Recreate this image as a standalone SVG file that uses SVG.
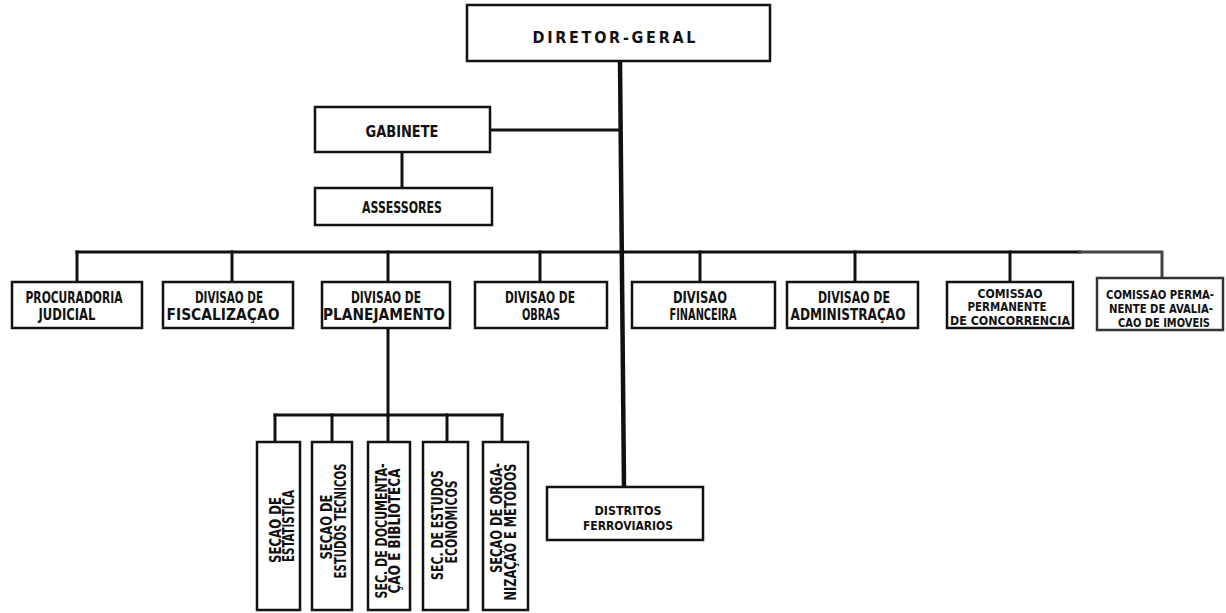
<svg xmlns="http://www.w3.org/2000/svg" width="1226" height="613" viewBox="0 0 1226 613">
  <style>
    .box { fill: #fff; stroke: #111; stroke-width: 2.5; }
    .ln { fill: none; stroke: #111; stroke-width: 3; stroke-linecap: square; }
    .trunk { fill: none; stroke: #111; stroke-width: 4.5; }
    text { font-family: "Liberation Sans Narrow", "DejaVu Sans Condensed", "Liberation Sans", sans-serif; font-stretch: condensed; font-weight: bold; fill: #111; text-anchor: middle; }
    .t14 { font-size: 15.5px; }
    .t13 { font-size: 13px; }
    .t12 { font-size: 12.5px; }
    .t15 { font-size: 16px; }
    .tv { font-size: 15.5px; }
  </style>
  <rect width="1226" height="613" fill="#fff"/>

  <!-- connectors -->
  <g id="connectors">
    <line class="trunk" x1="620" y1="61" x2="624" y2="487"/>
    <line class="ln" x1="490" y1="130" x2="620" y2="130"/>
    <line class="ln" x1="402" y1="152" x2="402" y2="188"/>
    <line class="ln" x1="77" y1="252" x2="1080" y2="252"/>
    <polyline class="ln" style="stroke:#444" points="1080,252 1162,252 1162,278"/>
    <line class="ln" x1="77" y1="252" x2="77" y2="282"/>
    <line class="ln" x1="232" y1="252" x2="232" y2="282"/>
    <line class="ln" x1="388" y1="252" x2="388" y2="282"/>
    <line class="ln" x1="540" y1="252" x2="540" y2="282"/>
    <line class="ln" x1="700" y1="252" x2="700" y2="282"/>
    <line class="ln" x1="855" y1="252" x2="855" y2="282"/>
    <line class="ln" x1="1010" y1="252" x2="1010" y2="282"/>
    <line class="ln" x1="388" y1="328" x2="388" y2="415"/>
    <line class="ln" x1="275" y1="415" x2="502" y2="415"/>
    <line class="ln" x1="275" y1="415" x2="275" y2="442"/>
    <line class="ln" x1="332" y1="415" x2="332" y2="442"/>
    <line class="ln" x1="388" y1="415" x2="388" y2="442"/>
    <line class="ln" x1="447" y1="415" x2="447" y2="442"/>
    <line class="ln" x1="502" y1="415" x2="502" y2="442"/>
  </g>

  <g id="diretor-geral">
    <rect class="box" x="467" y="5" width="303" height="56"/>
    <text class="t15" x="614" y="43" textLength="163" lengthAdjust="spacing">DIRETOR-GERAL</text>
  </g>

  <g id="gabinete">
    <rect class="box" x="315" y="107" width="175" height="45"/>
    <text class="t15" x="402" y="137" textLength="73" lengthAdjust="spacingAndGlyphs">GABINETE</text>
  </g>

  <g id="assessores">
    <rect class="box" x="315" y="188" width="177" height="37"/>
    <text class="t14" x="402" y="213" textLength="80" lengthAdjust="spacingAndGlyphs">ASSESSORES</text>
  </g>

  <g id="procuradoria">
    <rect class="box" x="12" y="282" width="130" height="46"/>
    <text class="t14" x="74" y="303" textLength="97" lengthAdjust="spacingAndGlyphs">PROCURADORIA</text>
    <text class="t14" x="67" y="320" textLength="57" lengthAdjust="spacingAndGlyphs">JUDICIAL</text>
  </g>

  <g id="fiscalizacao">
    <rect class="box" x="163" y="282" width="130" height="46"/>
    <text class="t14" x="229" y="303" textLength="68" lengthAdjust="spacingAndGlyphs">DIVISAO DE</text>
    <text class="t14" x="223" y="320" textLength="113" lengthAdjust="spacingAndGlyphs">FISCALIZAÇAO</text>
  </g>

  <g id="planejamento">
    <rect class="box" x="322" y="282" width="128" height="46"/>
    <text class="t14" x="386" y="303" textLength="70" lengthAdjust="spacingAndGlyphs">DIVISAO DE</text>
    <text class="t14" x="384" y="320" textLength="122" lengthAdjust="spacingAndGlyphs">PLANEJAMENTO</text>
  </g>

  <g id="obras">
    <rect class="box" x="475" y="282" width="132" height="46"/>
    <text class="t14" x="540" y="303" textLength="70" lengthAdjust="spacingAndGlyphs">DIVISAO DE</text>
    <text class="t14" x="541" y="320" textLength="38" lengthAdjust="spacingAndGlyphs">OBRAS</text>
  </g>

  <g id="financeira">
    <rect class="box" x="632" y="282" width="143" height="46"/>
    <text class="t14" x="700" y="303" textLength="54" lengthAdjust="spacingAndGlyphs">DIVISAO</text>
    <text class="t14" x="703" y="320" textLength="67" lengthAdjust="spacingAndGlyphs">FINANCEIRA</text>
  </g>

  <g id="administracao">
    <rect class="box" x="787" y="282" width="131" height="46"/>
    <text class="t14" x="854" y="303" textLength="72" lengthAdjust="spacingAndGlyphs">DIVISAO DE</text>
    <text class="t14" x="848" y="320" textLength="115" lengthAdjust="spacingAndGlyphs">ADMINISTRAÇAO</text>
  </g>

  <g id="comissao-concorrencia">
    <rect class="box" x="947" y="282" width="126" height="46"/>
    <text class="t13" x="1010" y="298" textLength="65" lengthAdjust="spacingAndGlyphs">COMISSAO</text>
    <text class="t13" x="1007" y="311" textLength="79" lengthAdjust="spacingAndGlyphs">PERMANENTE</text>
    <text class="t13" x="1010" y="325" textLength="120" lengthAdjust="spacingAndGlyphs">DE CONCORRENCIA</text>
  </g>

  <g id="comissao-imoveis">
    <rect class="box" x="1097" y="278" width="126" height="52" style="stroke:#333"/>
    <text class="t12" x="1160" y="299" textLength="108" lengthAdjust="spacingAndGlyphs">COMISSAO PERMA-</text>
    <text class="t12" x="1161" y="313" textLength="104" lengthAdjust="spacingAndGlyphs">NENTE DE AVALIA-</text>
    <text class="t12" x="1164" y="327" textLength="92" lengthAdjust="spacingAndGlyphs">CAO DE IMOVEIS</text>
  </g>

  <g id="distritos">
    <rect class="box" x="547" y="487" width="156" height="53"/>
    <text class="t13" x="628" y="515" textLength="67" lengthAdjust="spacingAndGlyphs">DISTRITOS</text>
    <text class="t13" x="628" y="530" textLength="90" lengthAdjust="spacingAndGlyphs">FERROVIARIOS</text>
  </g>

  <g id="secao-estatistica">
    <rect class="box" x="257" y="442" width="43" height="168"/>
    <text class="tv" transform="translate(281,530) rotate(-90)" textLength="66" lengthAdjust="spacingAndGlyphs">SEÇAO  DE</text>
    <text class="tv" transform="translate(294,526) rotate(-90)" textLength="72" lengthAdjust="spacingAndGlyphs">ESTATISTICA</text>
  </g>

  <g id="secao-estudos-tecnicos">
    <rect class="box" x="312" y="442" width="40" height="168"/>
    <text class="tv" transform="translate(332,527) rotate(-90)" textLength="65" lengthAdjust="spacingAndGlyphs">SEÇAO  DE</text>
    <text class="tv" transform="translate(346,521) rotate(-90)" textLength="115" lengthAdjust="spacingAndGlyphs">ESTUDOS TECNICOS</text>
  </g>

  <g id="secao-documentacao">
    <rect class="box" x="368" y="442" width="42" height="168"/>
    <text class="tv" transform="translate(387,531) rotate(-90)" textLength="135" lengthAdjust="spacingAndGlyphs">SEC. DE DOCUMENTA-</text>
    <text class="tv" transform="translate(400,531) rotate(-90)" textLength="125" lengthAdjust="spacingAndGlyphs">ÇAO E BIBLIOTECA</text>
  </g>

  <g id="secao-estudos-economicos">
    <rect class="box" x="423" y="442" width="45" height="168"/>
    <text class="tv" transform="translate(443,525) rotate(-90)" textLength="110" lengthAdjust="spacingAndGlyphs">SEC. DE ESTUDOS</text>
    <text class="tv" transform="translate(457,522) rotate(-90)" textLength="83" lengthAdjust="spacingAndGlyphs">ECONOMICOS</text>
  </g>

  <g id="secao-organizacao">
    <rect class="box" x="483" y="442" width="45" height="168"/>
    <text class="tv" transform="translate(502,518) rotate(-90)" textLength="110" lengthAdjust="spacingAndGlyphs">SEÇAO DE ORGA-</text>
    <text class="tv" transform="translate(516,532) rotate(-90)" textLength="137" lengthAdjust="spacingAndGlyphs">NIZAÇAO E METODOS</text>
  </g>
</svg>
